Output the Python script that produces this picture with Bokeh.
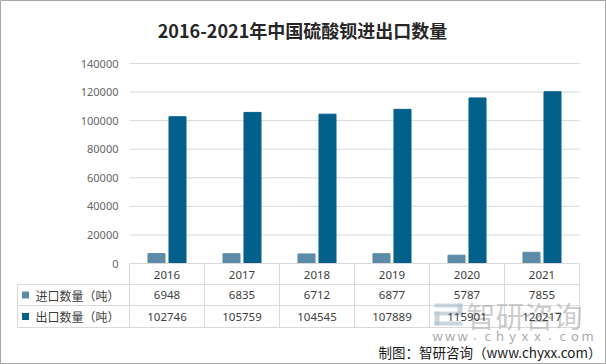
from bokeh.plotting import figure
from bokeh.models import Range1d, FixedTicker, NumeralTickFormatter
from bokeh.core.properties import value
from bokeh.embed import file_html
from bokeh.resources import INLINE

# ---- data ----
years = ["2016", "2017", "2018", "2019", "2020", "2021"]
imports = [6948, 6835, 6712, 6877, 5787, 7855]
exports = [102746, 105759, 104545, 107889, 115901, 120217]
series_names = ["进口数量（吨）", "出口数量（吨）"]
colors = ["#5b8ba7", "#02608a"]
yticks = [0, 20000, 40000, 60000, 80000, 100000, 120000, 140000]
title_text = "2016-2021年中国硫酸钡进出口数量"
footer_text = "制图：智研咨询（www.chyxx.com）"
wm_text = "智研咨询"
wm_url = "www.chyxx.com"

W, H = 606, 364
CAT = 75.0   # px per category
PX = 700.0   # y data units per px

def xr(px):  # canvas pixel x -> data x
    return (px - 129) / CAT - 0.5

def yr(py):  # canvas pixel y -> data y
    return (263 - py) * PX

CJK = "Noto Sans CJK SC"
NUM = "Noto Sans"

p = figure(width=W, height=H, x_range=Range1d(xr(0), xr(W)), y_range=Range1d(yr(H), yr(0)),
           min_border_left=0, min_border_right=0, min_border_top=0, min_border_bottom=0,
           x_axis_location=None, output_backend="svg", toolbar_location=None)
p.outline_line_color = "#a6a6a6"
p.outline_line_width = 1
p.xgrid.visible = False
p.ygrid.visible = False
p.background_fill_color = "white"
p.border_fill_color = "white"

yax = p.yaxis[0]
yax.ticker = FixedTicker(ticks=yticks)
yax.formatter = NumeralTickFormatter(format="0")
yax.axis_line_color = None
yax.major_tick_line_color = None
yax.minor_tick_line_color = None
yax.major_tick_out = 0
yax.major_label_standoff = -118
yax.major_label_text_font = NUM
yax.major_label_text_font_size = "11px"
yax.major_label_text_color = "#666666"

idx = list(range(len(years)))
XL = xr(17)
R0, R1, R2, R3 = 0, yr(284), yr(305), yr(327)

# gridlines
gt = yticks[1:]
p.segment(x0=[-0.5] * len(gt), x1=[5.5] * len(gt), y0=gt, y1=gt,
          line_color="#d9d9d9", line_width=1)

# bars
p.vbar(x=[i - 0.14 for i in idx], top=imports, width=0.227, color=colors[0])
p.vbar(x=[i + 0.14 for i in idx], top=exports, width=0.227, color=colors[1])

# table lines
hy = [R0, R1, R2, R3]
p.segment(x0=[-0.5, XL, XL, XL], x1=[5.5] * 4, y0=hy, y1=hy, line_color="#d9d9d9", line_width=1)
vx = [XL] + [i - 0.5 for i in range(7)]
p.segment(x0=vx, x1=vx, y0=[R1] + [R0] * 7, y1=[R3] * len(vx), line_color="#d9d9d9", line_width=1)

# watermark logo + text (behind table text)
wq = dict(color="#b4c4d1", alpha=0.7, line_color=None)
p.quad(left=[xr(434), xr(457), xr(434), xr(434), xr(434)],
       right=[xr(462), xr(462), xr(462), xr(439), xr(462)],
       top=[yr(303), yr(303), yr(311), yr(311), yr(321)],
       bottom=[yr(307), yr(314), yr(315), yr(325), yr(325)], **wq)
p.text(x=[xr(466)], y=[yr(314)], text=[wm_text], text_font=value(CJK), text_font_size="29px",
       text_color="#b0b0b0", text_alpha=0.65, text_align="left", text_baseline="middle")
# spaced-out url letters
n = len(wm_url)
step = (587 - 437) / (n - 1)
p.text(x=[xr(437 + k * step) for k in range(n)], y=[yr(335)] * n, text=list(wm_url),
       text_font=value(NUM), text_font_size="13px", text_color="#ababab",
       text_align="center", text_baseline="middle")

# table text
txt = dict(text_align="center", text_baseline="middle", text_font=value(NUM),
           text_font_size="11.5px", text_color="#404040")
p.text(x=idx, y=[yr(274)] * 6, text=years, **txt)
p.text(x=idx, y=[yr(294.5)] * 6, text=[str(v) for v in imports], **txt)
p.text(x=idx, y=[yr(316)] * 6, text=[str(v) for v in exports], **txt)

# legend column
p.scatter(x=[xr(25)] * 2, y=[yr(294.5), yr(316)], marker="square", size=7,
          color=colors, line_color=None)
p.text(x=[xr(35)] * 2, y=[yr(294.5), yr(316)], text=series_names, text_align="left",
       text_baseline="middle", text_font=value(CJK), text_font_size="12px",
       text_color="#404040")

# title
p.text(x=[xr(302)], y=[yr(29)], text=[title_text], text_font=value(CJK),
       text_font_size="18px", text_font_style="bold", text_color="#262626",
       text_align="center", text_baseline="middle")
# footer
p.text(x=[xr(601)], y=[yr(351)], text=[footer_text], text_font=value(CJK),
       text_font_size="13.5px", text_color="#1a1a1a",
       text_align="right", text_baseline="middle")

open("out.html", "w").write(file_html(p, INLINE))
